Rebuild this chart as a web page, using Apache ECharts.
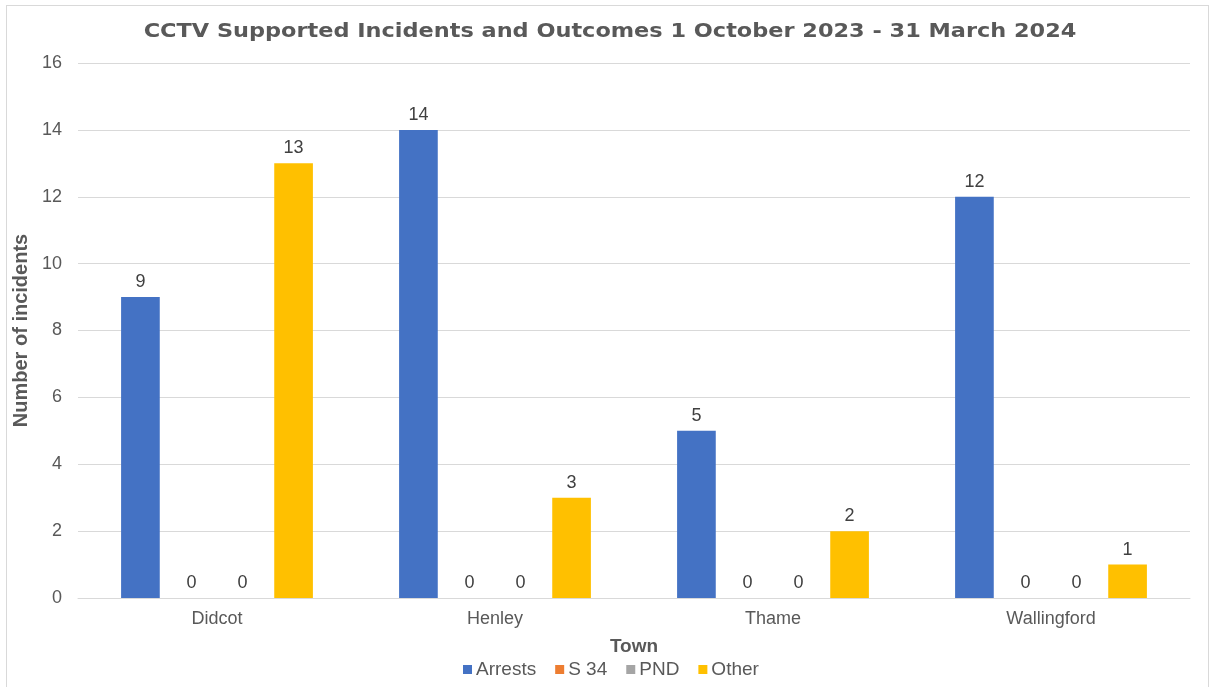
<!DOCTYPE html>
<html>
<head>
<meta charset="utf-8">
<script src="https://cdn.jsdelivr.net/npm/echarts@6/dist/echarts.min.js"></script>
<style>
  html, body { margin: 0; padding: 0; background: #fff; }
  #chart { width: 1210px; height: 687px; }
  #frame { position: absolute; left: 6px; top: 5px; width: 1201px; height: 700px;
           border: 1px solid #d9d9d9; pointer-events: none; }
</style>
</head>
<body>
<div id="chart"></div>
<div id="frame"></div>
<script>
const towns = ['Didcot', 'Henley', 'Thame', 'Wallingford'];
const arrests = [9, 14, 5, 12];
const s34 = [0, 0, 0, 0];
const pnd = [0, 0, 0, 0];
const other = [13, 3, 2, 1];
const seriesNames = ['Arrests', 'S 34', 'PND', 'Other'];
const seriesColors = ['#4472C4', '#ED7D31', '#A5A5A5', '#FFC000'];
const chartTitle = 'CCTV Supported Incidents and Outcomes 1 October 2023 - 31 March 2024';

const font = 'Liberation Sans, Arial, sans-serif';
const textGrey = '#595959';

const chart = echarts.init(document.getElementById('chart'), null, { renderer: 'canvas' });

const values = [arrests, s34, pnd, other];
const series = seriesNames.map((name, i) => ({
  name,
  type: 'bar',
  data: values[i],
  itemStyle: { color: seriesColors[i] },
  barGap: '32%',
  barCategoryGap: '31%',
  label: {
    show: true,
    position: 'top',
    distance: 6,
    color: '#404040',
    fontSize: 18,
    fontFamily: font
  }
}));

chart.setOption({
  animation: false,
  backgroundColor: '#ffffff',
  // wide, heavy heading drawn as a horizontally stretched text element
  graphic: [{
    type: 'text',
    x: 610,
    y: 32,
    scaleX: 1.12,
    style: {
      text: chartTitle,
      fontFamily: 'DejaVu Sans, sans-serif',
      fontSize: 20,
      fontWeight: 'bold',
      fill: textGrey,
      textAlign: 'center',
      textVerticalAlign: 'middle'
    }
  }],
  legend: {
    data: seriesNames,
    top: 655,
    left: 458,
    icon: 'rect',
    itemWidth: 9,
    itemHeight: 9,
    itemGap: 19,
    textStyle: { fontFamily: font, fontSize: 19, color: textGrey, padding: [0, 0, 0, -1] }
  },
  grid: { left: 78, right: 20, top: 63, bottom: 89, containLabel: false },
  xAxis: {
    type: 'category',
    data: towns,
    name: 'Town',
    nameLocation: 'middle',
    nameGap: 39,
    nameTextStyle: { fontFamily: font, fontSize: 19, fontWeight: 'bold', color: textGrey },
    axisLine: { lineStyle: { color: '#d9d9d9', width: 1 } },
    axisTick: { show: false },
    axisLabel: { fontFamily: font, fontSize: 18, color: textGrey, margin: 12 }
  },
  yAxis: {
    type: 'value',
    min: 0,
    max: 16,
    interval: 2,
    name: 'Number of incidents',
    nameLocation: 'middle',
    nameGap: 42,
    nameTextStyle: { fontFamily: font, fontSize: 20, fontWeight: 'bold', color: textGrey },
    axisLine: { show: false },
    axisTick: { show: false },
    axisLabel: { fontFamily: font, fontSize: 18, color: textGrey, margin: 16 },
    splitLine: { lineStyle: { color: '#d9d9d9', width: 1 } }
  },
  series
});
</script>
</body>
</html>
